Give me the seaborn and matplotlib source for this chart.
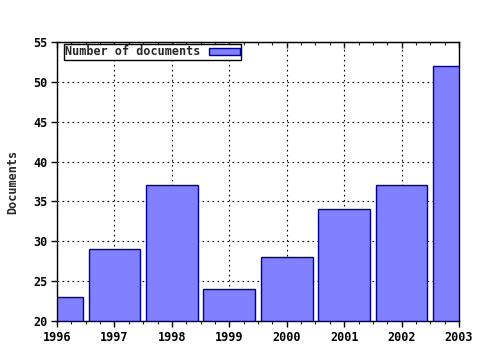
import matplotlib
matplotlib.use("Agg")
import matplotlib.pyplot as plt
import seaborn as sns
import pandas as pd
from matplotlib.ticker import MultipleLocator

years = [1996, 1997, 1998, 1999, 2000, 2001, 2002, 2003]
documents = [23, 29, 37, 24, 28, 34, 37, 52]
series_label = "Number of documents"
y_label = "Documents"

sns.set_style("white")
plt.rcParams['font.family'] = ['DejaVu Sans Mono', 'DejaVu Sans']
plt.rcParams['font.weight'] = 'bold'

df = pd.DataFrame({"year": years, "docs": documents})

fig = plt.figure(figsize=(4.8, 3.5), dpi=100)
ax = fig.add_axes([57/480, 1 - 321/350, (459-57)/480, (321-42)/350])

sns.barplot(data=df, x="year", y="docs", native_scale=True, width=0.9,
            color="#8080ff", saturation=1, edgecolor="#000099", linewidth=1,
            label=series_label, ax=ax, zorder=2)

ax.set_xlim(1996, 2003)
ax.set_ylim(20, 55)
ax.set_xticks(years)
ax.set_xticklabels([str(y) for y in years])
ax.xaxis.set_minor_locator(MultipleLocator(0.25))
ax.yaxis.set_major_locator(MultipleLocator(5))

ax.grid(True, which='major', color='black', linestyle=(0, (1.5, 3)), linewidth=0.8, zorder=1)
ax.set_axisbelow(True)

for s in ax.spines.values():
    s.set_color('black')
    s.set_linewidth(1)

fs = 8.5
ax.tick_params(axis='x', which='major', direction='out', length=4, width=1,
               top=False, bottom=True, labelsize=fs, pad=3, colors='black')
ax.tick_params(axis='x', which='minor', direction='out', length=2, width=0.8,
               top=False, bottom=True)
ax.tick_params(axis='y', which='major', direction='out', length=4, width=1,
               left=True, labelsize=fs, pad=3, colors='black')
for lab in ax.get_xticklabels() + ax.get_yticklabels():
    lab.set_fontweight('bold')

sec = ax.secondary_xaxis('top')
sec.set_xticks(years)
sec.xaxis.set_minor_locator(MultipleLocator(0.25))
sec.tick_params(axis='x', which='major', direction='in', length=4, width=1, labeltop=False)
sec.tick_params(axis='x', which='minor', direction='in', length=2, width=0.8)
sec.set_xticklabels([])

ax.set_xlabel("")
ax.set_ylabel(y_label, fontsize=fs, fontweight='bold', labelpad=10)

leg = ax.legend(loc='upper left', bbox_to_anchor=(7/402, 1 - 2/279), markerfirst=False,
                frameon=True, fancybox=False, framealpha=1, edgecolor='black',
                borderpad=0.12, handlelength=2.6, handleheight=0.55, handletextpad=0.7,
                borderaxespad=0, prop={'size': fs, 'weight': 'bold'})
leg.get_frame().set_linewidth(1)

fig.savefig("out.png", dpi=100)
